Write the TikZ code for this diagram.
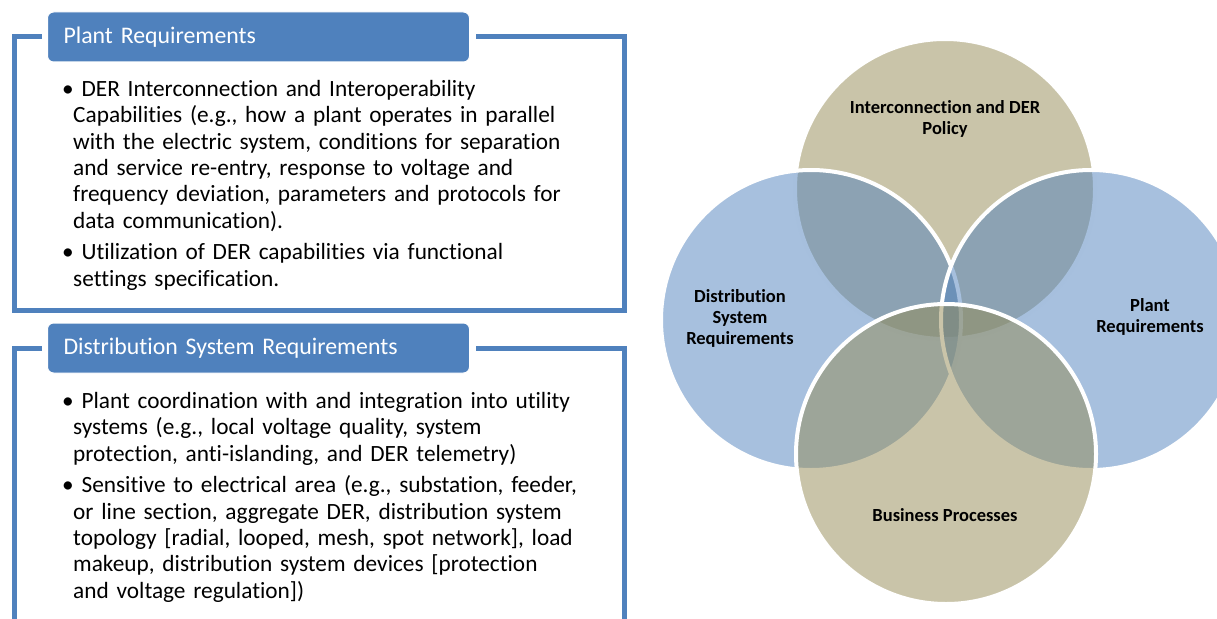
\documentclass[tikz,border=0pt]{standalone}
\usepackage{fontspec}
\setmainfont[Ligatures={NoCommon}]{Carlito}
\usepackage{tikz}
\usetikzlibrary{calc}
\usepackage{tkz-euclide}
\usepackage{xcolor}
\definecolor{ReqBlue}{HTML}{4F81BD}
\definecolor{PolicyTan}{HTML}{948A54}

\tikzset{
  hdrbox/.style={anchor=west, fill=ReqBlue, draw=white, line width=1,
    rounded corners=6, minimum height=50, text width=390, inner xsep=16,
    align=left, text=white, font=\fontsize{23.8}{26.3}\selectfont},
  boxframe/.style={draw=ReqBlue, line width=5},
  bodytxt/.style={anchor=base west, inner sep=0, text width=560, align=left,
    font=\fontsize{23.3}{26.3}\selectfont},
  venn/.style={draw=white, line width=4, fill opacity=0.5},
  vennlbl/.style={align=center, inner sep=0, font=\fontsize{18.5}{21}\selectfont\bfseries}
}

\begin{document}
\begin{tikzpicture}[x=1pt,y=-1pt]
   \useasboundingbox (0,0) rectangle (1217,618);

   \node[hdrbox] (plantHdr) at (47,37) {Plant Requirements};
   \draw[boxframe] ($(plantHdr.west)+(-5,0)$) -| (14.5,310.5) -| (624.5,37)
    -- ($(plantHdr.east)+(6,0)$);
   \node[bodytxt] (plantTxt) at (73,96.5) {\hspace*{-11pt}• DER Interconnection and Interoperability\\
    Capabilities (e.g., how a plant operates in parallel\\
    with the electric system, conditions for separation\\
    and service re-entry, response to voltage and\\
    frequency deviation, parameters and protocols for\\
    data communication).\\[5.5pt]
    \hspace*{-11pt}• Utilization of DER capabilities via functional\\
    settings specification.};

   \node[hdrbox] (distHdr) at (47,348) {Distribution System Requirements};
   \draw[boxframe] ($(distHdr.west)+(-5,0)$) -| (14.5,640);
   \draw[boxframe] ($(distHdr.east)+(6,0)$) -| (624.5,640);
   \node[bodytxt] (distTxt) at (73,408.5) {\hspace*{-11pt}• Plant coordination with and integration into utility\\
    systems (e.g., local voltage quality, system\\
    protection, anti-islanding, and DER telemetry)\\[5.5pt]
    \hspace*{-11pt}• Sensitive to electrical area (e.g., substation, feeder,\\
    or line section, aggregate DER, distribution system\\
    topology [radial, looped, mesh, spot network], load\\
    makeup, distribution system devices [protection\\
    and voltage regulation])};

   \tkzDefPoint(945,189){policy}
   \tkzDefPoint(811,320){dist}
   \tkzDefPoint(1091,320){plant}
   \tkzDefPoint(946,454){business}

   \filldraw[venn, fill=PolicyTan] (policy) circle[radius=150pt];
   \filldraw[venn, fill=ReqBlue] (dist) circle[radius=150pt];
   \filldraw[venn, fill=ReqBlue] (plant) circle[radius=150pt];
   \filldraw[venn, fill=PolicyTan] (business) circle[radius=150pt];

   \node[vennlbl] (policyLbl) at (945,118.5) {Interconnection and DER\\Policy};
   \node[vennlbl] (distLbl) at (740,318.5) {Distribution\\System\\Requirements};
   \node[vennlbl] (plantLbl) at (1150,317) {Plant\\Requirements};
   \node[vennlbl] (businessLbl) at (945,515) {Business Processes};
  \end{tikzpicture}
\end{document}
